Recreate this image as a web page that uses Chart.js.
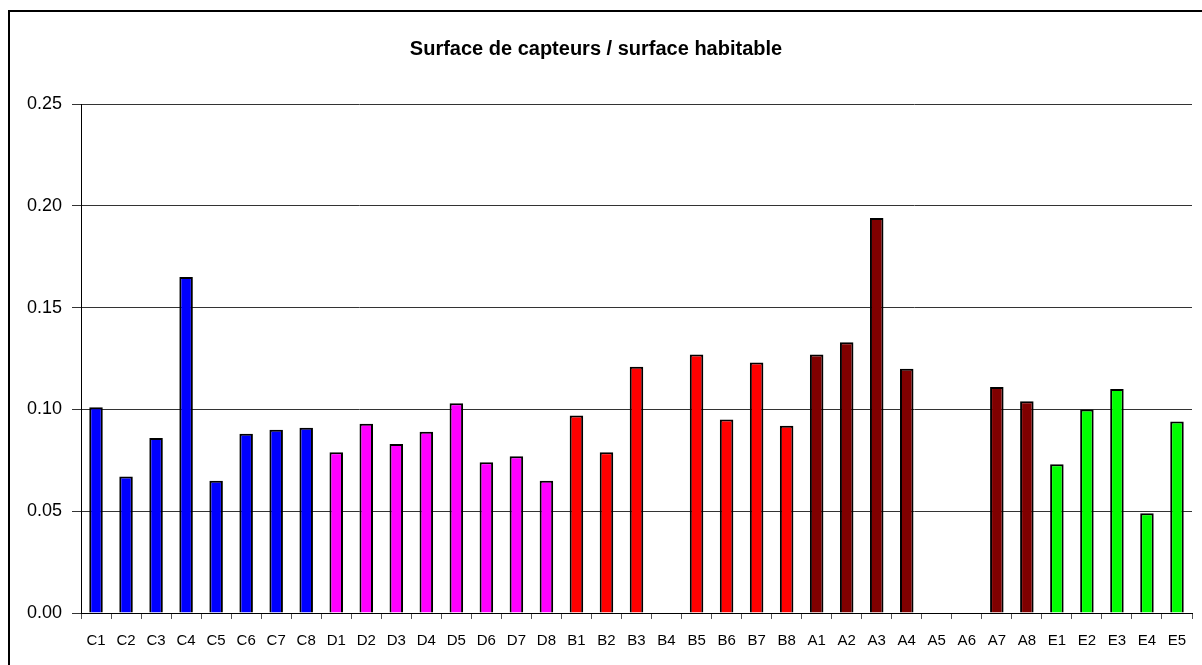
<!DOCTYPE html>
<html>
<head>
<meta charset="utf-8">
<title>Surface de capteurs / surface habitable</title>
<script src="https://cdn.jsdelivr.net/npm/chart.js@4/dist/chart.umd.min.js"></script>
<style>
    html, body { margin: 0; padding: 0; background: #fff; }
    #box { width: 1202px; height: 665px; position: relative; }
</style>
</head>
<body>
<div id="box"><canvas id="surfaceChart" width="1202" height="665"></canvas></div>
<script>
const titleText = "Surface de capteurs / surface habitable";
const labels = ["C1", "C2", "C3", "C4", "C5", "C6", "C7", "C8",
    "D1", "D2", "D3", "D4", "D5", "D6", "D7", "D8",
    "B1", "B2", "B3", "B4", "B5", "B6", "B7", "B8",
    "A1", "A2", "A3", "A4", "A5", "A6", "A7", "A8",
    "E1", "E2", "E3", "E4", "E5"];
const values = [0.101, 0.067, 0.086, 0.165, 0.065, 0.088, 0.090, 0.091,
    0.079, 0.093, 0.083, 0.089, 0.103, 0.074, 0.077, 0.065,
    0.097, 0.079, 0.121, null, 0.127, 0.095, 0.123, 0.092,
    0.127, 0.133, 0.194, 0.120, null, null, 0.111, 0.104,
    0.073, 0.100, 0.110, 0.049, 0.094];
const groupColors = { "C": "#0000ff", "D": "#ff00ff", "B": "#ff0000", "A": "#800000", "E": "#00ff00" };
const yTicks = [0, 0.05, 0.10, 0.15, 0.20, 0.25];

// cadre autour du graphique
const framePlugin = {
    id: "frame",
    beforeDraw(chart) {
        const ctx = chart.ctx;
        ctx.save();
        ctx.fillStyle = "#fff";
        ctx.fillRect(0, 0, chart.width, chart.height);
        ctx.strokeStyle = "#000";
        ctx.lineWidth = 2;
        ctx.strokeRect(9, 11, 1300, 1000);
        ctx.restore();
    }
};

function drawChart() {
    const ctx = document.getElementById("surfaceChart");
    new Chart(ctx, {
        type: "bar",
        data: {
            labels: labels,
            datasets: [{
                label: titleText,
                data: values,
                backgroundColor: labels.map(l => groupColors[l[0]]),
                borderColor: "#000",
                borderWidth: 2,
                borderSkipped: "bottom",
                barPercentage: 1,
                categoryPercentage: 0.45
            }]
        },
        options: {
            responsive: false,
            animation: false,
            layout: { padding: { left: 0, right: 10, top: 0, bottom: 0 } },
            plugins: {
                legend: { display: false },
                tooltip: { enabled: false },
                title: {
                    display: true,
                    text: titleText,
                    color: "#000",
                    font: { family: "Liberation Sans, Arial", size: 20, weight: "bold" },
                    padding: { top: 37, bottom: 43 }
                }
            },
            scales: {
                x: {
                    offset: true,
                    grid: { offset: true, drawOnChartArea: false, drawTicks: true, tickLength: 6, color: "#555" },
                    border: { color: "#000", width: 1 },
                    ticks: {
                        color: "#000",
                        font: { family: "Liberation Sans, Arial", size: 15 },
                        padding: 13,
                        maxRotation: 0,
                        autoSkip: false
                    },
                    afterFit(scale) { scale.height = 52; }
                },
                y: {
                    min: 0,
                    max: 0.25,
                    afterBuildTicks(scale) { scale.ticks = yTicks.map(v => ({ value: v })); },
                    grid: { color: "#333", tickLength: 9 },
                    border: { color: "#000", width: 1 },
                    ticks: {
                        color: "#000",
                        font: { family: "Liberation Sans, Arial", size: 18 },
                        padding: 10,
                        callback: v => v.toFixed(2)
                    },
                    afterFit(scale) { scale.width = 81; }
                }
            }
        },
        plugins: [framePlugin]
    });
}
drawChart();
</script>
</body>
</html>
